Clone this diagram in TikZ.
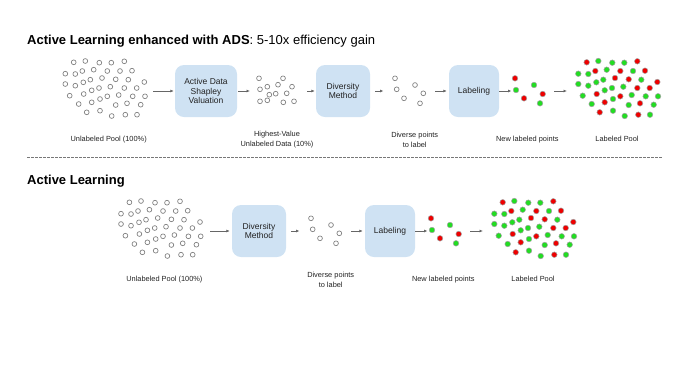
\documentclass[tikz,border=0pt]{standalone}
\usepackage{fontspec}
\setmainfont{Liberation Sans}
\usetikzlibrary{arrows.meta}
\definecolor{boxblue}{HTML}{CFE2F3}
\definecolor{ptred}{HTML}{EE0000}
\definecolor{ptgreen}{HTML}{22DD22}
\definecolor{ptline}{HTML}{7A7A7A}
\definecolor{arrowgray}{HTML}{666666}
\definecolor{txt}{HTML}{222222}
\definecolor{dashgray}{HTML}{777777}
\def\poollist{586.7/62.3/r, 598.3/61/g, 612.3/62.7/g, 624.3/62.7/g, 637.3/61.3/r,
578.3/73.7/g, 588.3/74/g, 595.3/71/r, 606.7/69.7/g, 620.3/71/r, 633/71/g, 645/70.7/r,
578.3/84/g, 588.3/85.7/g, 596.3/82.3/g, 603.3/79.7/g, 615/78/r, 628.7/79.3/r, 641.3/79.7/g, 657.3/82/r,
582.7/95.7/g, 596.7/94/r, 604.7/90.3/g, 612/88/g, 623.3/86.7/g, 637.3/88/r, 649.7/88/r,
613/99/g, 620.3/96.3/r, 631.7/95/g, 645.7/96.3/g, 658/96.3/g,
591.7/104/g, 604.7/102.3/r, 628.7/105/g, 640/103.3/r, 653.7/104.7/g,
599.7/112.3/r, 613/110.7/g, 624.7/116/g, 638.3/114.7/r, 650/114.7/g}
\def\highlist{259/78.3, 283/78.3, 260/89.3, 267.3/86.7, 278/84.7, 292/86.7,
269.3/94.7, 275.7/93.7, 286.7/93.3, 260/101.3, 267.3/100.3, 283.3/102.3, 294/101.3}
\def\diverselist{395/78.3, 396.7/89.3, 415/85, 404/98.3, 423.3/93.3, 420/103.3}
\def\newlist{515/78.3/r, 516/90/g, 524/98.3/r, 534/85/g, 542.7/94/r, 540/103.3/g}
\begin{document}
\begin{tikzpicture}[x=1bp,y=-1bp,
  stagebox/.style={fill=boxblue, rounded corners=9bp, text=txt, align=center,
    font=\fontsize{8.5bp}{9.6bp}\selectfont, inner sep=0pt, minimum height=52bp},
  caption/.style={text=txt, align=center, font=\fontsize{7.4bp}{9.3bp}\selectfont, inner sep=0pt},
  titletext/.style={anchor=base west, inner sep=0pt, font=\fontsize{13bp}{15bp}\selectfont, text=black},
  upt/.style={circle, draw=ptline, fill=white, line width=0.65bp, minimum size=4.8bp, inner sep=0pt},
  labr/.style={circle, draw=ptline!70, fill=ptred, line width=0.5bp, minimum size=5.6bp, inner sep=0pt},
  labg/.style={circle, draw=ptline!70, fill=ptgreen, line width=0.5bp, minimum size=5.6bp, inner sep=0pt},
  arr/.style={draw=arrowgray, line width=0.7bp, -{Latex[length=3.5bp,width=3bp]}}]
\useasboundingbox (0,0) rectangle (675,380);

% ---------- titles and separator ----------
\node[titletext] (title1) at (27,44) {\textbf{Active Learning enhanced with ADS}: 5-10x efficiency gain};
\node[titletext] (title2) at (27,184) {\textbf{Active Learning}};
\coordinate (sepL) at (27,157.5);
\coordinate (sepR) at (662,157.5);
\draw[dashgray, line width=0.7bp, dash pattern=on 2.5bp off 1.5bp] (sepL) -- (sepR);

% ---------- top row ----------
\begin{scope}[shift={(-513,0)}]
  \foreach \px/\py/\pc [count=\i] in \poollist { \node[upt] (tu-\i) at (\px,\py) {}; }
\end{scope}
\foreach \px/\py [count=\i] in \highlist { \node[upt] (th-\i) at (\px,\py) {}; }
\foreach \px/\py [count=\i] in \diverselist { \node[upt] (td-\i) at (\px,\py) {}; }
\foreach \px/\py/\pc [count=\i] in \newlist { \node[lab\pc] (tn-\i) at (\px,\py) {}; }
\foreach \px/\py/\pc [count=\i] in \poollist { \node[lab\pc] (tl-\i) at (\px,\py) {}; }

\node[stagebox, minimum width=62bp] (ads1) at (206,91) {Active Data\\Shapley\\Valuation};
\node[stagebox, minimum width=54bp] (div1) at (343,91) {Diversity\\Method};
\node[stagebox, minimum width=50bp] (lab1) at (474,91) {Labeling};

\coordinate (a1s) at (153,91);
\coordinate (a2e) at (250,91);
\coordinate (a3s) at (307,91);
\coordinate (a4e) at (383.5,91);
\coordinate (a5s) at (435,91);
\coordinate (a6e) at (511.5,91);
\coordinate (a7s) at (554,91);
\coordinate (a7e) at (567,91);
\draw[arr, shorten >=1bp] (a1s) -- (ads1.west);
\draw[arr, shorten <=1bp] (ads1.east) -- (a2e);
\draw[arr, shorten >=1bp] (a3s) -- (div1.west);
\draw[arr, shorten <=5bp] (div1.east) -- (a4e);
\draw[arr, shorten >=2bp] (a5s) -- (lab1.west);
\draw[arr] (lab1.east) -- (a6e);
\draw[arr] (a7s) -- (a7e);

\node[caption] (c1) at (108.7,139.3) {Unlabeled Pool (100\%)};
\node[caption] (c2) at (277,139.7) {Highest-Value\\Unlabeled Data (10\%)};
\node[caption] (c3) at (414.7,139.7) {Diverse points\\to label};
\node[caption] (c4) at (527.3,139.3) {New labeled points};
\node[caption] (c5) at (617,139.3) {Labeled Pool};

% ---------- bottom row ----------
\begin{scope}[shift={(-457.3,140)}]
  \foreach \px/\py/\pc [count=\i] in \poollist { \node[upt] (bu-\i) at (\px,\py) {}; }
\end{scope}
\begin{scope}[shift={(-84,140)}]
  \foreach \px/\py [count=\i] in \diverselist { \node[upt] (bd-\i) at (\px,\py) {}; }
  \foreach \px/\py/\pc [count=\i] in \newlist { \node[lab\pc] (bn-\i) at (\px,\py) {}; }
  \foreach \px/\py/\pc [count=\i] in \poollist { \node[lab\pc] (bl-\i) at (\px,\py) {}; }
\end{scope}

\node[stagebox, minimum width=54bp] (div2) at (259,231) {Diversity\\Method};
\node[stagebox, minimum width=50bp] (lab2) at (390,231) {Labeling};

\coordinate (b1s) at (210,231);
\coordinate (b2e) at (299.5,231);
\coordinate (b3s) at (351,231);
\coordinate (b4e) at (427.5,231);
\coordinate (b5s) at (470,231);
\coordinate (b5e) at (483,231);
\draw[arr, shorten >=2bp] (b1s) -- (div2.west);
\draw[arr, shorten <=5bp] (div2.east) -- (b2e);
\draw[arr, shorten >=2bp] (b3s) -- (lab2.west);
\draw[arr] (lab2.east) -- (b4e);
\draw[arr] (b5s) -- (b5e);

\node[caption] (d1) at (164.4,279.3) {Unlabeled Pool (100\%)};
\node[caption] (d3) at (330.7,279.7) {Diverse points\\to label};
\node[caption] (d4) at (443.3,279.3) {New labeled points};
\node[caption] (d5) at (533,279.3) {Labeled Pool};
\end{tikzpicture}
\end{document}
